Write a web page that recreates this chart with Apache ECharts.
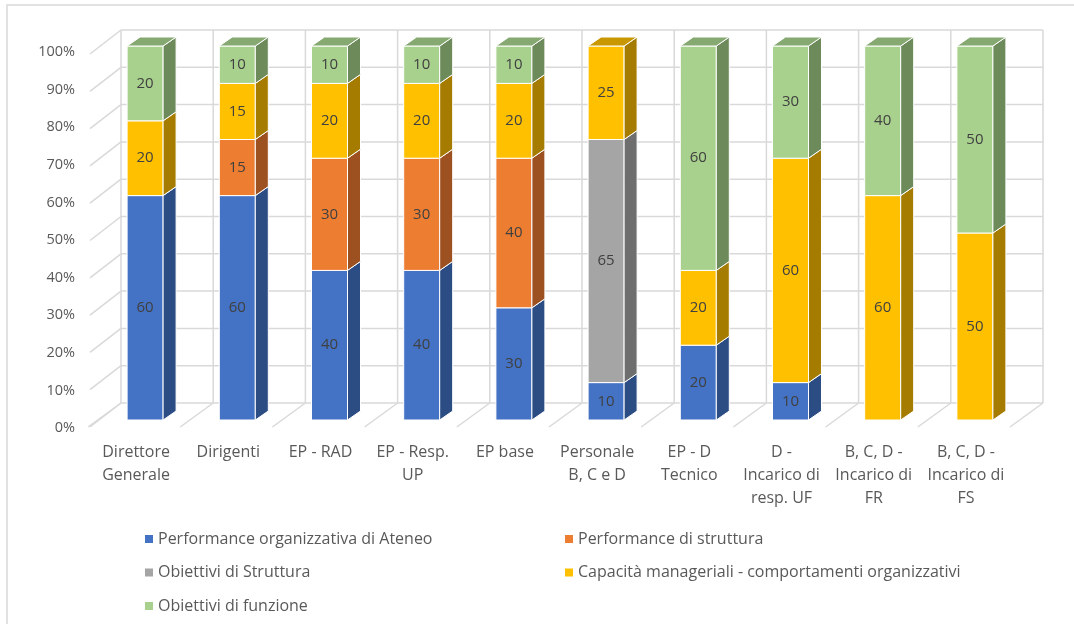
<!DOCTYPE html>
<html><head><meta charset="utf-8">
<script src="https://cdn.jsdelivr.net/npm/echarts@6/dist/echarts.min.js"></script>
<style>html,body{margin:0;padding:0;background:#fff}#c{width:1074px;height:624px}</style>
</head><body><div id="c"></div>
<script>
var categories = ["Direttore\nGenerale","Dirigenti","EP - RAD","EP - Resp.\nUP","EP base","Personale\nB, C e D","EP - D\nTecnico","D -\nIncarico di\nresp. UF","B, C, D -\nIncarico di\nFR","B, C, D -\nIncarico di\nFS"];
var seriesNames = ["Performance organizzativa di Ateneo","Performance di struttura","Obiettivi di Struttura","Capacità manageriali - comportamenti organizzativi","Obiettivi di funzione"];
var perfAteneo   = [60,60,40,40,30,10,20,10,0,0];
var perfStruttura= [0,15,30,30,40,0,0,0,0,0];
var obStruttura  = [0,0,0,0,0,65,0,0,0,0];
var capacita     = [20,15,20,20,20,25,20,60,60,50];
var obFunzione   = [20,10,10,10,10,0,60,30,40,50];
var yTicks = [0,10,20,30,40,50,60,70,80,90,100];

var allData = [perfAteneo, perfStruttura, obStruttura, capacita, obFunzione];
var colors = ['#4472C4','#ED7D31','#A5A5A5','#FFC000','#A9D18E'];
var sideColors = ['#2C4C84','#9E5120','#6E6E6E','#A67C00','#6D8A5A'];
var topColors = ['#3A62A8','#C9692A','#8C8C8C','#C99700','#86A871'];
var FONT = '"Open Sans", sans-serif';
var DX = 13, DY = 9, HALF = 18;

function topIndex(i){ var t=-1; for(var s=0;s<allData.length;s++){ if(allData[s][i]>0) t=s; } return t; }

function makeBarSeries(s){
  return {
    type:'custom', name: seriesNames[s], xAxisIndex:0, yAxisIndex:0,
    itemStyle:{color:colors[s]},
    z: 5 + s,
    data: allData[s].map(function(v,i){return [i,v];}),
    renderItem: function(params, api){
      var i = api.value(0), v = api.value(1);
      if(!v) return null;
      var base=0; for(var k=0;k<s;k++) base += allData[k][i];
      var p0 = api.coord([i, base]), p1 = api.coord([i, base+v]);
      var x0 = p0[0]-HALF, x1 = p0[0]+HALF, y0 = p0[1], y1 = p1[1];
      var children = [
        {type:'rect', shape:{x:x0,y:y1,width:x1-x0,height:y0-y1}, style:{fill:colors[s], stroke:'#fff', lineWidth:1}},
        {type:'polygon', shape:{points:[[x1,y1],[x1+DX,y1-DY],[x1+DX,y0-DY],[x1,y0]]}, style:{fill:sideColors[s], stroke:'#fff', lineWidth:1}}
      ];
      if(topIndex(i)===s){
        children.push({type:'polygon', shape:{points:[[x0,y1],[x1,y1],[x1+DX,y1-DY],[x0+DX,y1-DY]]}, style:{fill:topColors[s], stroke:'#fff', lineWidth:1}});
      }
      children.push({type:'text', style:{text:String(v), x:(x0+x1)/2, y:(y0+y1)/2, align:'center', verticalAlign:'middle', fill:'#404040', font:'15px '+FONT}});
      return {type:'group', children:children};
    }
  };
}

var frameData = [];
yTicks.forEach(function(t){ frameData.push(['h', t]); });
for (var b=0;b<=categories.length;b++) frameData.push(['v', b]);

var frameSeries = {
  type:'custom', name:'frame', xAxisIndex:1, yAxisIndex:1, z:1, silent:true,
  data: frameData.map(function(d,idx){return [idx];}),
  renderItem: function(params, api){
    var d = frameData[params.dataIndex];
    var st = {stroke:'#D9D9D9', lineWidth:1.5};
    var WX = -31, WY = 24;
    if(d[0]==='h'){
      var a = api.coord([0,d[1]]), c = api.coord([categories.length,d[1]]);
      return {type:'group', children:[
        {type:'line', shape:{x1:a[0],y1:a[1],x2:c[0],y2:c[1]}, style:st},
        {type:'line', shape:{x1:a[0],y1:a[1],x2:a[0]+WX,y2:a[1]+WY}, style:st}
      ]};
    } else {
      var lo = api.coord([d[1],0]), hi = api.coord([d[1],100]);
      return {type:'group', children:[
        {type:'line', shape:{x1:lo[0],y1:lo[1],x2:hi[0],y2:hi[1]}, style:st},
        {type:'line', shape:{x1:lo[0],y1:lo[1],x2:lo[0]-33,y2:lo[1]+24}, style:st}
      ]};
    }
  }
};

var textStyle = {color:'#595959', fontFamily:FONT, fontSize:16};
var option = {
  animation:false,
  backgroundColor:'#fff',
  graphic:[{type:'rect', shape:{x:7,y:5,width:1200,height:800}, style:{fill:'none', stroke:'#D9D9D9', lineWidth:1.5}, silent:true, z:0}],
  grid:[
    {left:99, right:53, top:46, bottom:204},
    {left:121, right:31, top:30, bottom:221},
    {left:90, right:62, top:52, bottom:196}
  ],
  xAxis:[
    {gridIndex:0, type:'category', data:categories, show:false},
    {gridIndex:1, type:'value', min:0, max:categories.length, show:false},
    {gridIndex:2, type:'category', data:categories, axisLine:{show:false}, axisTick:{show:false},
      axisLabel:Object.assign({interval:0, margin:13, lineHeight:23}, textStyle)}
  ],
  yAxis:[
    {gridIndex:0, type:'value', min:0, max:100, interval:10, show:false},
    {gridIndex:1, type:'value', min:0, max:100, interval:10, show:false},
    {gridIndex:2, type:'value', min:0, max:100, interval:10, splitLine:{show:false}, axisLine:{show:false}, axisTick:{show:false},
      axisLabel:Object.assign({margin:15, formatter:'{value}%'}, textStyle, {fontSize:14.5})}
  ],
  legend:[
    {left:140, top:526, orient:'vertical', itemGap:17.5, icon:'rect', itemWidth:8, itemHeight:8,
      data:[seriesNames[0], seriesNames[2], seriesNames[4]], textStyle:textStyle},
    {left:560, top:526, orient:'vertical', itemGap:17.5, icon:'rect', itemWidth:8, itemHeight:8,
      data:[seriesNames[1], seriesNames[3]], textStyle:textStyle}
  ],
  series:[frameSeries].concat(allData.map(function(_,s){return makeBarSeries(s);}))
};
var chart = echarts.init(document.getElementById('c'));
chart.setOption(option);
</script></body></html>
